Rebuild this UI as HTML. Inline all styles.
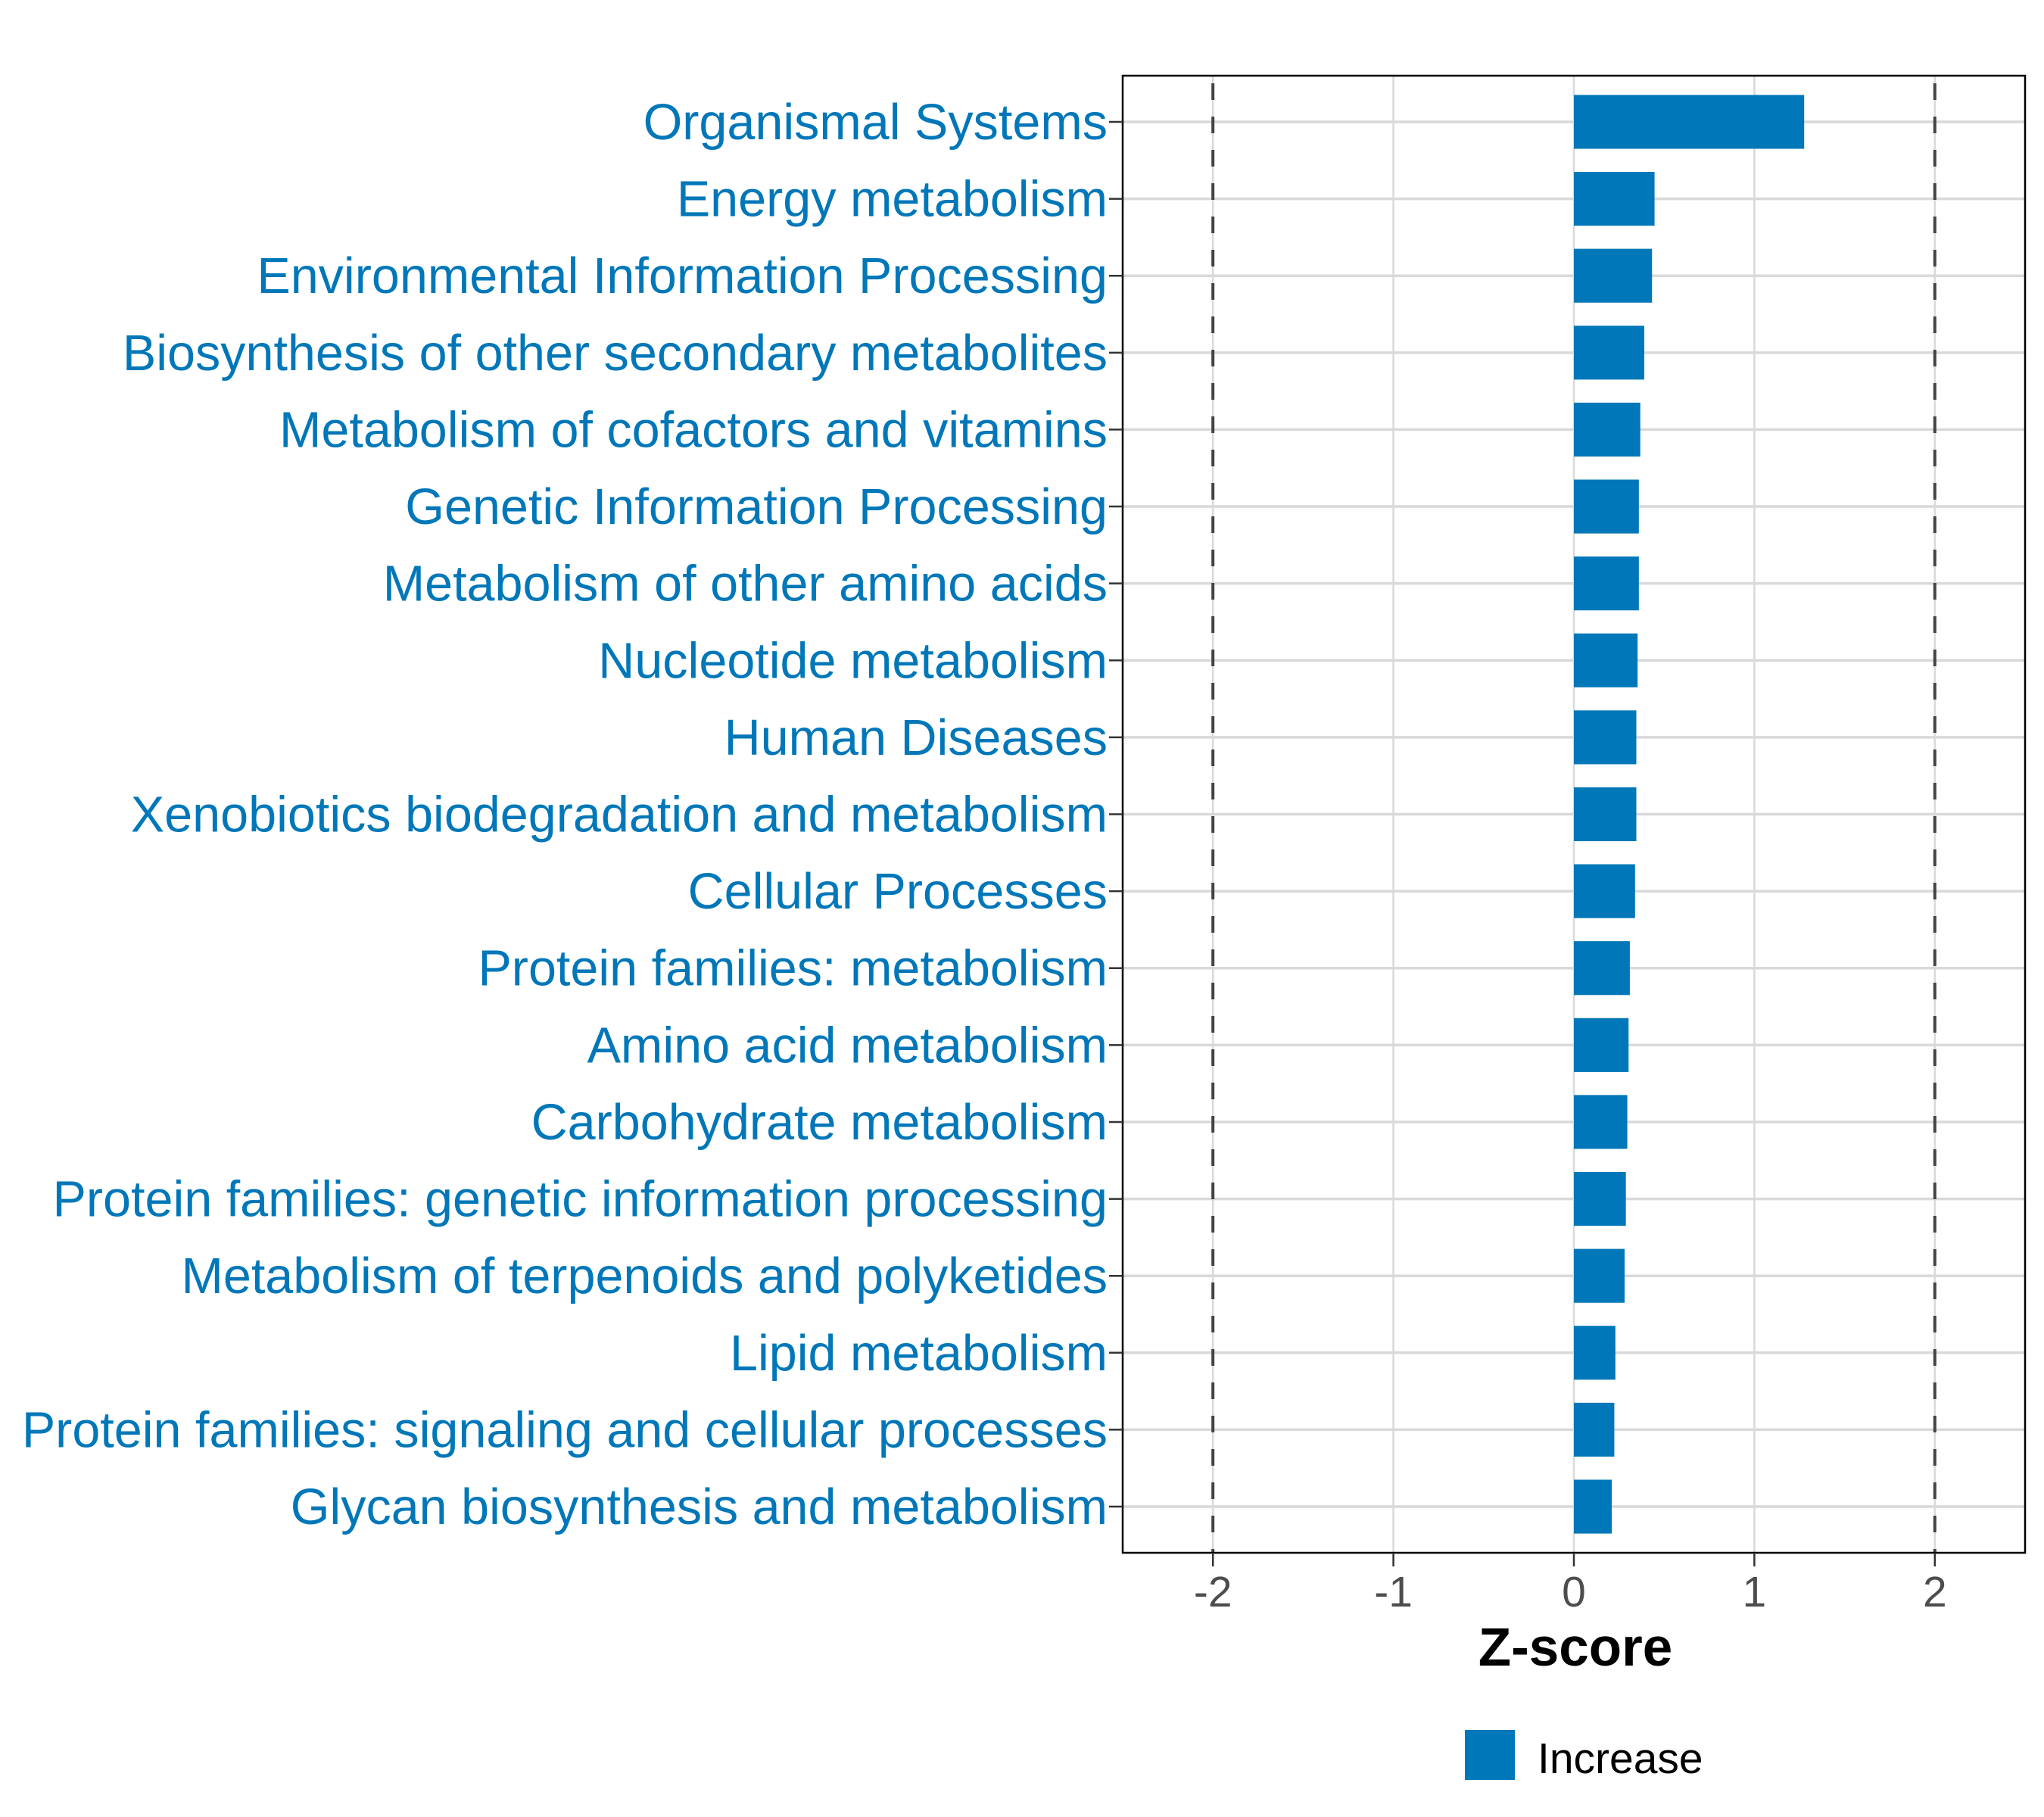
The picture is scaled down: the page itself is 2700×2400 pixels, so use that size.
<!DOCTYPE html>
<html><head><meta charset="utf-8"><style>body{margin:0;background:#fff}svg{display:block}</style></head>
<body>
<svg id="chart" xmlns="http://www.w3.org/2000/svg" width="2700" height="2400" viewBox="0 0 2700 2400" font-family="'Liberation Sans', sans-serif">
<rect width="2700" height="2400" fill="#fff"/>
<g id="grid"></g>
<g id="bars"></g>
<g id="refs"></g>
<rect x="1483" y="100" width="1192" height="1951" fill="none" stroke="#000" stroke-width="2.5"/>
<g id="ylabels"></g>
<g id="xticks"></g>
<text x="2081" y="2200" text-anchor="middle" font-weight="bold" font-size="71" fill="#000">Z-score</text>
<g>
<rect x="1935" y="2285" width="66" height="66" fill="#0077b8"/>
<text x="2031" y="2342" font-size="57" fill="#000">Increase</text>
</g>
</svg>
<script>
const categories = ["Organismal Systems","Energy metabolism","Environmental Information Processing","Biosynthesis of other secondary metabolites","Metabolism of cofactors and vitamins","Genetic Information Processing","Metabolism of other amino acids","Nucleotide metabolism","Human Diseases","Xenobiotics biodegradation and metabolism","Cellular Processes","Protein families: metabolism","Amino acid metabolism","Carbohydrate metabolism","Protein families: genetic information processing","Metabolism of terpenoids and polyketides","Lipid metabolism","Protein families: signaling and cellular processes","Glycan biosynthesis and metabolism"];
const zscores = [1.276,0.447,0.433,0.39,0.368,0.36,0.36,0.353,0.346,0.346,0.339,0.31,0.303,0.296,0.288,0.281,0.23,0.224,0.21];
const xTicks = [-2,-1,0,1,2];
const xTickLabels = ["-2","-1","0","1","2"];
const refLines = [-2,2];

const NS="http://www.w3.org/2000/svg";
const PL=1483,PR=2675,PT=100,PB=2051,XMIN=-2.5,XMAX=2.5;
function xs(v){return PL+(v-XMIN)/(XMAX-XMIN)*(PR-PL);}
const n=categories.length;
const step=(PB-PT)/(n-1+1.2);
function ys(i){return PT+step*(0.6+i);}
function mk(tag,attrs,parent){const e=document.createElementNS(NS,tag);for(const k in attrs)e.setAttribute(k,attrs[k]);parent.appendChild(e);return e;}
const grid=document.getElementById('grid'),bars=document.getElementById('bars'),refs=document.getElementById('refs'),yl=document.getElementById('ylabels'),xt=document.getElementById('xticks');
xTicks.forEach((t,i)=>{
  const l=mk('line',{x1:xs(t),x2:xs(t),y1:PT,y2:PB,stroke:'#d9d9d9','stroke-width':2.5},grid);
  
  
  const tk=mk('line',{x1:xs(t),x2:xs(t),y1:PB,y2:PB+18,stroke:'#333','stroke-width':2.5},xt);
  
  
  const tx=mk('text',{x:xs(t),y:2122,'text-anchor':'middle','font-size':57,fill:'#4d4d4d'},xt);
  tx.textContent=xTickLabels[i];
  
  
});
categories.forEach((c,i)=>{
  const y=ys(i);
  const g=mk('line',{x1:PL,x2:PR,y1:y,y2:y,stroke:'#d9d9d9','stroke-width':3.5},grid);
  
  
  const v=zscores[i],bh=step*0.7;
  const b=mk('rect',{x:Math.min(xs(0),xs(v)),y:y-bh/2,width:Math.abs(xs(v)-xs(0)),height:bh,fill:'#0077b8'},bars);
  
  
  const tk=mk('line',{x1:PL-18,x2:PL,y1:y,y2:y,stroke:'#333','stroke-width':2.5},yl);
  
  
  const t=mk('text',{x:1463,y:y+23,'text-anchor':'end','font-size':66.5,fill:'#0077b8'},yl);
  t.textContent=c;
  
  
});
refLines.forEach(r=>{
  const l=mk('line',{x1:xs(r),x2:xs(r),y1:PT,y2:PB,stroke:'#444','stroke-width':4,'stroke-dasharray':'22 22','stroke-dashoffset':'-10'},refs);
  
  
});
</script>
</body></html>
